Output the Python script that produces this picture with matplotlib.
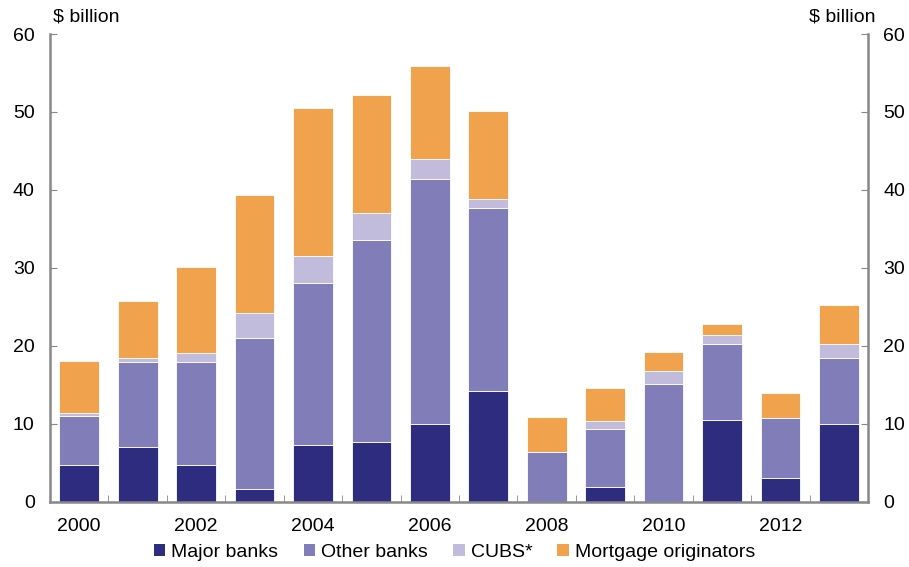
import numpy as np
import matplotlib.pyplot as plt
from matplotlib.patches import Patch

plt.rcParams['font.family'] = ['Liberation Sans', 'DejaVu Sans']

years = list(range(2000, 2014))
# segment sizes ($ billion)
major = [4.7, 7.0, 4.7, 1.7, 7.3, 7.7, 10.0, 14.2, 0.0, 1.9, 0.0, 10.5, 3.1, 10.0]
other = [6.3, 10.9, 13.2, 19.3, 20.8, 25.9, 31.4, 23.5, 6.4, 7.4, 15.1, 9.7, 7.6, 8.5]
cubs = [0.4, 0.6, 1.2, 3.2, 3.4, 3.5, 2.6, 1.1, 0.0, 1.1, 1.7, 1.2, 0.0, 1.8]
mortgage = [6.6, 7.3, 11.0, 15.2, 19.0, 15.1, 11.9, 11.3, 4.5, 4.2, 2.4, 1.4, 3.2, 5.0]

labels = ['Major banks', 'Other banks', 'CUBS*', 'Mortgage originators']
colors = ['#2e2c7e', '#807db8', '#c1bcdc', '#f0a24c']
series = [major, other, cubs, mortgage]

fs = 14

fig, ax = plt.subplots(figsize=(9.09, 5.67), dpi=100)
fig.subplots_adjust(left=0.055, right=0.955, top=0.94, bottom=0.115)

x = np.arange(len(years))
bottom = np.zeros(len(years))
for vals, c in zip(series, colors):
    ax.bar(x, vals, width=0.68, bottom=bottom, color=c, edgecolor='white',
           linewidth=0.6, zorder=2)
    bottom += np.array(vals)

ax.set_xlim(-0.5, len(years) - 0.5)
ax.set_ylim(0, 60)
ax.set_yticks(range(0, 61, 10))

ax.set_xticks(x[::2])
ax.set_xticklabels([str(y) for y in years[::2]])
ax.set_xticks(np.arange(0.5, len(years) - 1, 1), minor=True)
ax.tick_params(axis='x', which='major', length=0, pad=12, labelsize=fs)
ax.tick_params(axis='x', which='minor', direction='in', length=5, color='#888888')
ax.tick_params(axis='y', direction='in', length=5, color='#888888', labelsize=fs,
               left=True, right=True, labelleft=True, labelright=True, pad=11)

ax.spines['top'].set_visible(False)
for side in ['left', 'right', 'bottom']:
    ax.spines[side].set_color('#888888')
    ax.spines[side].set_linewidth(1.8)

fig.text(0.058, 0.955, '$ billion', fontsize=fs, ha='left', va='bottom')
fig.text(0.963, 0.955, '$ billion', fontsize=fs, ha='right', va='bottom')

handles = [Patch(facecolor=c, edgecolor='none') for c in colors]
fig.legend(handles, labels, loc='lower center', bbox_to_anchor=(0.5, -0.02), ncol=4,
           frameon=False, fontsize=fs, handlelength=0.6, handleheight=0.6,
           handletextpad=0.3, columnspacing=1.3)

fig.savefig('out.png', dpi=100)
